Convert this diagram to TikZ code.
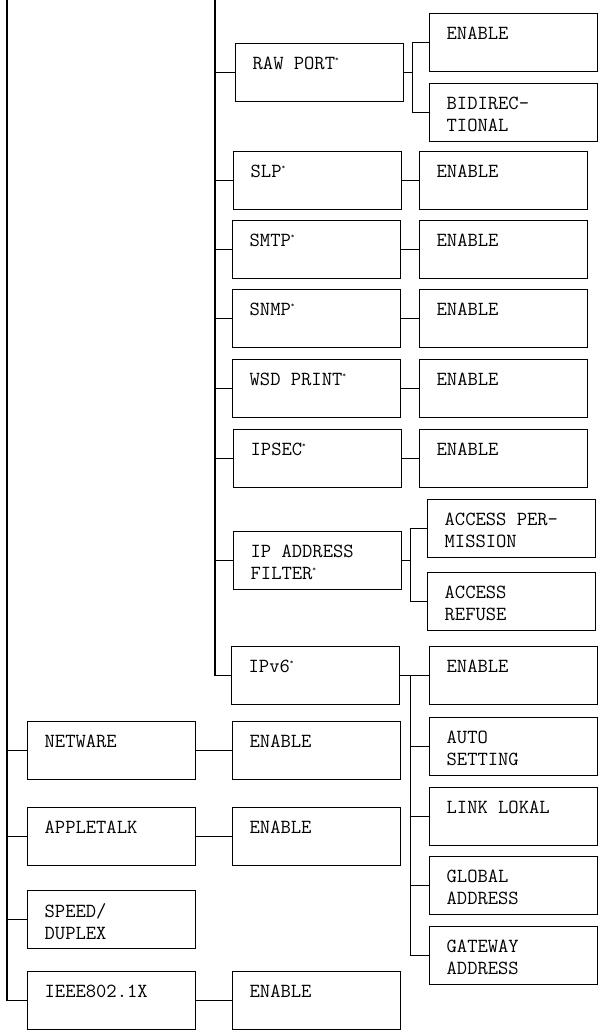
\documentclass[tikz,border=0pt]{standalone}
\newcommand\st{\textsuperscript{\scriptsize *}}
\begin{document}
\begin{tikzpicture}[x=1pt,y=-1pt,line width=1.3pt,
  box/.style={draw,anchor=north west,inner sep=0,minimum width=168pt,minimum height=58pt},
  lbl/.style={anchor=north west,inner sep=0,xshift=17pt,yshift=-13pt,align=left,
    font=\fontsize{20}{22}\selectfont\ttfamily}]
\useasboundingbox (0,0) rectangle (601,1032);
\newcommand\bx[4]{\node[box,label={[lbl]north west:{#4}}] (#1) at (#2,#3) {};}
\coordinate (L0) at (7,0);
\coordinate (M0) at (215,0);
\bx{raw}{235}{43}{RAW PORT\st}
\bx{e1}{429}{13}{ENABLE}
\bx{bid}{429}{83}{BIDIREC-\\TIONAL}
\bx{slp}{233}{151}{SLP\st}
\bx{e2}{419}{151}{ENABLE}
\bx{smtp}{232}{220}{SMTP\st}
\bx{e3}{419}{220}{ENABLE}
\bx{snmp}{232}{289}{SNMP\st}
\bx{e4}{419}{289}{ENABLE}
\bx{wsd}{232}{359}{WSD PRINT\st}
\bx{e5}{419}{359}{ENABLE}
\bx{ipsec}{233}{429}{IPSEC\st}
\bx{e6}{419}{429}{ENABLE}
\bx{ipf}{233}{531}{IP ADDRESS\\FILTER\st}
\bx{acp}{427}{499}{ACCESS PER-\\MISSION}
\bx{acr}{427}{572}{ACCESS\\REFUSE}
\bx{ipv}{231}{646}{IPv6\st}
\bx{ie}{429}{646}{ENABLE}
\bx{auto}{429}{717}{AUTO\\SETTING}
\bx{link}{429}{787}{LINK LOKAL}
\bx{glob}{429}{856}{GLOBAL\\ADDRESS}
\bx{gate}{429}{926}{GATEWAY\\ADDRESS}
\bx{net}{27}{721}{NETWARE}
\bx{en}{232}{721}{ENABLE}
\bx{app}{27}{807}{APPLETALK}
\bx{ea}{232}{807}{ENABLE}
\bx{spd}{27}{890}{SPEED/\\DUPLEX}
\bx{iee}{27}{971}{IEEE802.1X}
\bx{ei}{232}{971}{ENABLE}
% main lines
\foreach \n in {net,app,spd,iee} \draw (L0) |- (\n.west);
\foreach \n in {raw,slp,smtp,snmp,wsd,ipsec,ipf,ipv} \draw (M0) |- (\n.west);
% brackets
\draw (raw.east) -- ++(8,0) coordinate (rj);
\draw (rj) |- (e1.west); \draw (rj) |- (bid.west);
\draw (ipf.east) -- ++(8,0) coordinate (fj);
\draw (fj) |- (acp.west); \draw (fj) |- (acr.west);
\draw (ipv.east) -- ++(10,0) coordinate (vj);
\foreach \n in {ie,auto,link,glob,gate} \draw (vj) |- (\n.west);
\draw (slp) -- (e2); \draw (smtp) -- (e3); \draw (snmp) -- (e4);
\draw (wsd) -- (e5); \draw (ipsec) -- (e6);
\draw (net) -- (en); \draw (app) -- (ea); \draw (iee) -- (ei);
\end{tikzpicture}
\end{document}
